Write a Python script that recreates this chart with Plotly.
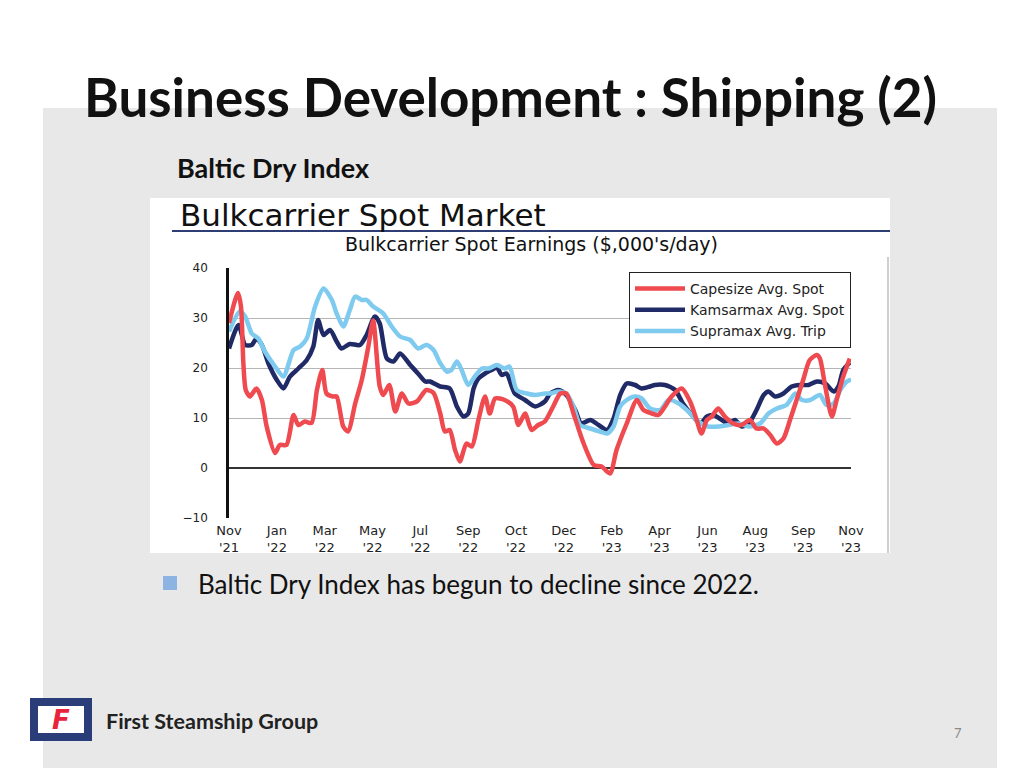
import plotly.graph_objects as go

# ---------------- data ----------------
tick_weeks = [0, 8, 16, 24, 32, 40, 48, 56, 64, 72, 80, 88, 96, 104]
tick_labels = ["Nov<br>'21", "Jan<br>'22", "Mar<br>'22", "May<br>'22", "Jul<br>'22", "Sep<br>'22",
               "Oct<br>'22", "Dec<br>'22", "Feb<br>'23", "Apr<br>'23", "Jun<br>'23", "Aug<br>'23",
               "Sep<br>'23", "Nov<br>'23"]

cape_w = [0, 1.5, 2, 2.4, 2.8, 3.5, 4.6, 5.5, 6.3, 7.7, 8.5, 9.6, 10.8, 11.6, 12.7, 13.8, 14.7, 15.6,
          16.3, 17.4, 18.0, 19.1, 19.9, 21.1, 22.2, 23.3, 24.1, 25.2, 25.8, 26.8, 27.8, 28.9, 30.0,
          31.4, 33.0, 34.2, 35.3, 36.1, 36.9, 37.8, 38.6, 39.7, 40.6, 41.7, 42.8, 43.6, 44.5, 46.1,
          47.5, 48.4, 49.5, 50.6, 51.7, 52.8, 54.2, 55.4, 56.4, 57.6, 59.3, 61.0, 62.3, 63.7, 64.8,
          66.5, 68.2, 69.3, 70.7, 71.8, 72.9, 74.0, 75.7, 77.1, 78.2, 79.0, 79.9, 80.7, 81.8, 82.9,
          84.3, 85.7, 87.1, 88.2, 89.4, 90.5, 91.6, 92.7, 93.8, 94.9, 96.0, 97.1, 98.3, 98.8, 99.7,
          100.8, 101.6, 102.7, 103.8]
cape_v = [29, 35, 32.3, 21, 15.6, 14.3, 15.9, 13.6, 8.3, 3, 4.6, 4.6, 10.6, 8.6, 9.3, 9, 15.6, 19.6,
          14.9, 14.3, 14.3, 8.3, 7.3, 12.9, 17.6, 24.3, 29.5, 16.3, 14.6, 16.6, 11.3, 14.9, 12.9,
          13.3, 15.6, 15.0, 11.0, 7.3, 7.6, 3.6, 1.3, 4.9, 4.3, 9.6, 14.3, 10.9, 13.9, 13.6,
          12.3, 8.6, 10.9, 7.6, 8.6, 9.3, 12.3, 14.9, 14.9, 10.9, 4.9, 0.6, 0.3, -1.1, 3.6,
          8.9, 13.6, 11.6, 10.9, 10.6, 12.3, 14.3, 15.9, 13.3, 9.6, 6.9, 9.6, 10.3, 11.9, 10.3,
          8.9, 8.6, 9.6, 7.9, 7.9, 6.6, 4.9, 5.9, 9.6, 13.6, 17.6, 21.6, 22.6, 21.9, 16.3,
          10.3, 13.6, 18.3, 21.9]

kams_w = [0, 1.6, 2.7, 3.8, 4.6, 5.5, 6.6, 8.0, 9.1, 10.2, 11.6, 13.0, 14.1, 14.9, 15.8, 16.9, 18.0,
          18.8, 20.2, 21.9, 23.0, 24.4, 25.2, 26.4, 27.5, 28.6, 30.3, 31.6, 32.8, 33.6, 35.3, 36.9,
          38.1, 39.2, 40.0, 40.9, 41.7, 42.8, 43.9, 44.8, 45.6, 46.4, 47.8, 49.5, 51.2, 52.8, 53.7,
          55.1, 56.4, 57.9, 58.9, 60.4, 61.8, 63.2, 64.3, 65.4, 66.5, 67.9, 69.0, 70.4, 71.2, 72.9,
          74.6, 75.9, 77.4, 78.8, 79.9, 81.0, 82.4, 83.5, 84.6, 85.7, 86.9, 88.2, 89.4, 90.2, 91.3,
          92.7, 94.1, 95.5, 96.9, 98.3, 99.7, 101.1, 101.9, 102.7, 103.8]
kams_v = [23.9, 28.6, 24.6, 24.6, 25.9, 24.6, 20.9, 17.6, 15.9, 18.3, 19.9, 21.6, 24.3, 29.6, 26.6,
          27.6, 25.3, 23.9, 24.8, 24.6, 26.6, 30.3, 28.9, 21.9, 21.3, 22.9, 20.6, 18.9, 17.3, 17.3,
          16.3, 15.9, 12.3, 10.3, 10.9, 15.9, 17.9, 18.9, 19.6, 20.1, 18.6, 18.9, 14.9, 13.6, 12.3,
          13.3, 14.9, 15.6, 14.6, 11.6, 8.9, 9.6, 8.6, 7.6, 9.9, 14.6, 16.9, 16.6, 15.9, 16.3, 16.6,
          16.6, 15.6, 12.9, 10.6, 8.9, 10.3, 10.6, 9.6, 8.9, 9.6, 8.3, 8.9, 11.6, 14.6, 15.3, 14.3,
          14.9, 16.3, 16.6, 16.6, 17.3, 16.9, 15.3, 16.3, 19.6, 21.1]

supr_w = [0, 1.8, 2.7, 3.8, 4.9, 6.0, 7.7, 9.1, 10.8, 11.9, 13.0, 14.4, 15.8, 17.2, 18.0, 19.1, 20.2,
          21.1, 22.2, 23.0, 24.1, 25.8, 27.2, 28.6, 30.3, 31.6, 33.0, 34.2, 35.3, 36.4, 37.2, 38.1,
          38.9, 40.0, 41.1, 42.3, 43.4, 44.8, 46.1, 46.9, 48.1, 49.8, 51.2, 52.8, 53.7, 55.1, 56.4,
          57.6, 58.7, 60.4, 62.0, 63.2, 64.3, 65.4, 66.5, 67.9, 69.0, 70.4, 72.1, 73.5, 75.2, 76.8,
          78.5, 80.1, 81.8, 83.5, 85.2, 86.9, 88.8, 90.2, 91.6, 93.2, 94.7, 95.8, 97.2, 98.8, 99.9,
          101.1, 102.2, 103.3, 104.0]
supr_v = [27.3, 31.3, 30.3, 26.9, 25.9, 23.3, 20.3, 18.3, 23.6, 24.3, 25.9, 32.3, 35.9, 33.6, 30.9,
          28.3, 31.6, 34.3, 33.6, 33.6, 32.3, 30.9, 28.3, 26.3, 25.6, 23.9, 24.6, 23.6, 21.0, 19.3,
          19.6, 21.3, 19.6, 16.6, 18.3, 19.9, 19.9, 20.6, 19.9, 20.3, 15.6, 14.9, 14.6, 14.9, 14.9,
          15.3, 14.9, 12.3, 8.6, 7.9, 7.3, 6.9, 8.3, 12.3, 13.6, 14.3, 13.9, 11.9, 11.6, 13.6, 12.9,
          11.3, 9.3, 8.3, 8.3, 8.6, 8.9, 8.3, 8.9, 10.9, 11.9, 12.6, 14.9, 13.6, 13.6, 14.6, 12.6,
          12.9, 15.6, 17.3, 17.7]

series_names = ["Capesize Avg. Spot", "Kamsarmax Avg. Spot", "Supramax Avg. Trip"]
series_colors = ["#ee4a4f", "#1f2a66", "#7fcbef"]

# ---------------- geometry helpers (window pixel -> paper) ----------------
PL, PR, PT, PB = 229, 851, 268, 518      # plot area in window pixels
W, H = 1024, 768
OFF = 8                                  # default page body margin


def fx(px):
    return (px - PL) / (PR - PL)


def fy(py):
    return (PB - py) / (PB - PT)


fig = go.Figure()

traces = [(kams_w, kams_v, 1), (supr_w, supr_v, 2), (cape_w, cape_v, 0)]
for xs, ys, idx in traces:
    fig.add_trace(go.Scatter(
        x=xs, y=ys, mode="lines", name=series_names[idx],
        line=dict(color=series_colors[idx], width=4.5, shape="spline", smoothing=0.7),
        legendrank=idx + 1, hoverinfo="skip"))

chart_font = "DejaVu Sans"
slide_font = "Lato"

shapes = [
    # slide grey panel
    dict(type="rect", xref="paper", yref="paper", x0=fx(43), x1=fx(997), y0=fy(770), y1=fy(108),
         fillcolor="#e8e8e8", line=dict(width=0), layer="below"),
    # chart picture (white)
    dict(type="rect", xref="paper", yref="paper", x0=fx(150), x1=fx(890), y0=fy(553), y1=fy(198),
         fillcolor="white", line=dict(width=0), layer="below"),
    dict(type="line", xref="paper", yref="paper", x0=fx(888), x1=fx(888), y0=fy(553), y1=fy(257),
         line=dict(color="#cfcfcf", width=2), layer="below"),
    # chart title underline
    dict(type="line", xref="paper", yref="paper", x0=fx(172), x1=fx(890), y0=fy(231), y1=fy(231),
         line=dict(color="#2e3d73", width=2)),
    # bullet
    dict(type="rect", xref="paper", yref="paper", x0=fx(163), x1=fx(177), y0=fy(590), y1=fy(576),
         fillcolor="#8db3e2", line=dict(width=0)),
    # logo
    dict(type="rect", xref="paper", yref="paper", x0=fx(30), x1=fx(92), y0=fy(741), y1=fy(698),
         fillcolor="#2b3d78", line=dict(width=0)),
    dict(type="rect", xref="paper", yref="paper", x0=fx(38), x1=fx(84), y0=fy(733), y1=fy(706),
         fillcolor="white", line=dict(width=0)),
]

annotations = [
    dict(text="<b>Business Development : Shipping (2)</b>", x=fx(82), y=fy(96), xanchor="left",
         yanchor="middle", font=dict(family=slide_font, size=53, color="#111111")),
    dict(text="<b>Baltic Dry Index</b>", x=fx(175), y=fy(167), xanchor="left", yanchor="middle",
         font=dict(family=slide_font, size=27, color="#111111")),
    dict(text="Bulkcarrier Spot Market", x=fx(178), y=fy(215), xanchor="left", yanchor="middle",
         font=dict(family=chart_font, size=31, color="#111111")),
    dict(text="Bulkcarrier Spot Earnings ($,000's/day)", x=fx(531), y=fy(244), xanchor="center",
         yanchor="middle", font=dict(family=chart_font, size=19, color="#111111")),
    dict(text="Baltic Dry Index has begun to decline since 2022.", x=fx(196), y=fy(584),
         xanchor="left", yanchor="middle", font=dict(family=slide_font, size=26, color="#111111")),
    dict(text="<b><i>F</i></b>", x=fx(61), y=fy(720), xanchor="center", yanchor="middle",
         font=dict(family="DejaVu Sans", size=26, color="#e8243c")),
    dict(text="<b>First Steamship Group</b>", x=fx(104), y=fy(721), xanchor="left", yanchor="middle",
         font=dict(family=slide_font, size=21.5, color="#222222")),
    dict(text="7", x=fx(958), y=fy(733), xanchor="center", yanchor="middle",
         font=dict(family=slide_font, size=13, color="#8a8a8a")),
]
for a in annotations:
    a.update(xref="paper", yref="paper", showarrow=False)

fig.update_layout(
    width=W - OFF, height=H - OFF,
    margin=dict(l=PL - OFF, r=W - PR, t=PT - OFF, b=H - PB, pad=0),
    paper_bgcolor="white", plot_bgcolor="rgba(0,0,0,0)",
    shapes=shapes, annotations=annotations,
    showlegend=True,
    legend=dict(x=1, y=fy(272), xanchor="right", yanchor="top", bgcolor="white",
                bordercolor="#222222", borderwidth=1,
                font=dict(family=chart_font, size=14, color="#222222"),
                itemwidth=50, tracegroupgap=0),
    xaxis=dict(range=[0, 104], tickvals=tick_weeks, ticktext=tick_labels, showgrid=False,
               zeroline=False, showline=False, ticks="", ticklabelstandoff=3,
               tickfont=dict(family=chart_font, size=13, color="#222222"), fixedrange=True),
    yaxis=dict(range=[-10, 40], tickvals=[-10, 0, 10, 20, 30, 40], showgrid=True,
               gridcolor="#b5b5b5", gridwidth=1, zeroline=True, zerolinecolor="#333333",
               zerolinewidth=1.5, showline=True, linecolor="#111111", linewidth=2.5,
               ticks="", ticklabelstandoff=16,
               tickfont=dict(family=chart_font, size=12, color="#222222"), fixedrange=True),
)

fig.write_html("out.html")
